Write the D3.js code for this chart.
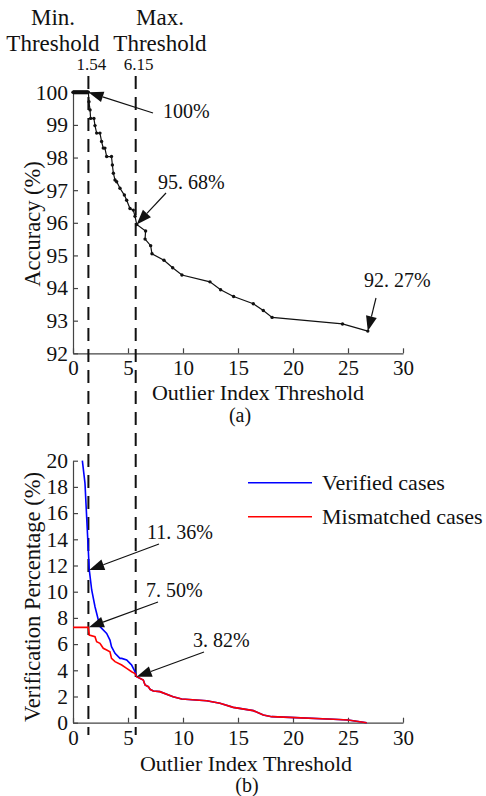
<!DOCTYPE html>
<html lang="en">
<head>
<meta charset="UTF-8">
<title>Outlier Index Threshold</title>
<script src="https://d3js.org/d3.v7.min.js"></script>
<style>
  body { margin: 0; background: #fff; }
  .axis path, .axis line { stroke: #444; stroke-width: 1.2px; }
</style>
</head>
<body>
<div id="chart"></div>
<script>
// (a) accuracy vs outlier index threshold
const accX = [0, 0.1, 0.2, 0.3, 0.4, 0.5, 0.6, 0.7, 0.8, 0.9, 1.0, 1.1, 1.2, 1.3, 1.4,
  1.45, 1.55, 1.6, 1.9, 2.0, 2.15, 2.45, 2.6, 2.75, 2.9, 3.06, 3.5, 3.58, 3.67, 3.82, 3.97,
  4.27, 4.67, 4.88, 5.18, 5.48, 5.64, 5.79, 6.6, 6.55, 7.06, 7.18, 8.27, 9.06, 9.9,
  12.45, 13.42, 14.6, 16.39, 17.3, 18.1, 24.5, 26.8];
const accY = [100, 100, 100, 100, 100, 100, 100, 100, 100, 100, 100, 100, 100, 100, 100,
  99.71, 99.46, 99.2, 99.2, 98.98, 98.75, 98.75, 98.49, 98.29, 98.29, 98.03, 98.03, 97.77, 97.52, 97.31, 97.26,
  97.06, 96.85, 96.69, 96.44, 96.39, 96.2, 95.95, 95.75, 95.5, 95.3, 95.05, 94.85, 94.62, 94.4,
  94.19, 93.95, 93.74, 93.52, 93.31, 93.10, 92.9, 92.68];

// (b) verification percentage; both curves share the same tail after the max threshold
const verX = [0.85, 1.09, 1.24, 1.39, 1.48, 1.7, 2.0, 2.15, 2.45, 3.06, 3.36, 3.5, 3.82, 4.27, 4.43, 4.88, 5.18, 5.33, 5.64];
const verY = [20.0, 18.27, 15.73, 13.18, 11.66, 10.13, 8.85, 8.35, 7.33, 6.82, 6.31, 5.8, 5.3, 4.91, 4.91, 4.79, 4.53, 4.4, 3.89];
const misX = [0, 1.39, 1.48, 2.0, 2.15, 2.45, 2.75, 3.06, 3.36, 3.5, 3.82, 4.43, 4.88, 5.33, 5.64];
const misY = [7.28, 7.28, 6.69, 6.57, 6.18, 6.06, 5.68, 5.55, 5.42, 4.91, 4.66, 4.4, 4.15, 3.89, 3.75];
const tailX = [5.79, 6.39, 6.55, 6.85, 7.0, 7.3, 7.9, 9.1, 9.88, 12.15, 13.36, 14.57, 16.39, 17.3, 18.06, 19.7, 23.67, 25.0, 26.7];
const tailY = [3.51, 3.26, 2.88, 2.75, 2.55, 2.42, 2.37, 1.98, 1.81, 1.68, 1.48, 1.17, 0.92, 0.59, 0.46, 0.41, 0.26, 0.21, 0];

const xTicks = [0, 5, 10, 15, 20, 25, 30];
const accTicks = [92, 93, 94, 95, 96, 97, 98, 99, 100];
const verTicks = [0, 2, 4, 6, 8, 10, 12, 14, 16, 18, 20];

const thresholdPos = [1.4, 5.7];
const thresholdText = ["1.54", "6.15"];
const thresholdName = ["Min.", "Max."];

const seriesNames = ["Verified cases", "Mismatched cases"];
const seriesColors = ["#0000ff", "#ff0000"];

// annotated points: [x, y, integer part, decimals]
const accNotes = [[1.4, 100, "100%", ""], [5.79, 95.95, "95.", "68%"], [26.8, 92.68, "92.", "27%"]];
const verNotes = [[1.48, 11.66, "11.", "36%"], [1.45, 7.28, "7.", "50%"], [5.79, 3.51, "3.", "82%"]];

const FONT = '"Liberation Serif", "Times New Roman", Times, "DejaVu Serif", serif';
const W = 486, H = 796;
const svg = d3.select("#chart").append("svg").attr("width", W).attr("height", H)
  .attr("font-family", FONT).style("font-family", FONT);

const x = d3.scaleLinear().domain([0, 30]).range([73, 403]);
const yA = d3.scaleLinear().domain([92, 100]).range([353.3, 92.3]);
const yB = d3.scaleLinear().domain([0, 20]).range([722.7, 460.7]);

function txt(px, py, size, s, anchor) {
  return svg.append("text").attr("x", px).attr("y", py)
    .attr("text-anchor", anchor || "start")
    .style("font-family", FONT).style("font-size", size + "px").attr("fill", "#111").text(s);
}

function drawAxes(y, ticks, x0y) {
  svg.append("g").attr("class", "axis")
    .attr("transform", `translate(0,${x0y})`)
    .call(d3.axisBottom(x).tickValues(xTicks).tickSizeInner(-5).tickSizeOuter(0).tickPadding(7))
    .call(g => g.attr("font-family", FONT).attr("font-size", 21))
    .call(g => g.selectAll("text").attr("dy", "0.71em").attr("fill", "#111").style("font-family", FONT));
  svg.append("g").attr("class", "axis")
    .attr("transform", `translate(${x(0)},0)`)
    .call(d3.axisLeft(y).tickValues(ticks).tickSizeInner(-5).tickSizeOuter(0).tickPadding(5))
    .call(g => g.attr("font-family", FONT).attr("font-size", 21.5))
    .call(g => g.selectAll("text").attr("fill", "#111").style("font-family", FONT));
}
drawAxes(yA, accTicks, yA(92));
drawAxes(yB, verTicks, yB(0));

// dashed threshold lines
thresholdPos.forEach((t, i) => {
  svg.append("line")
    .attr("x1", x(t)).attr("x2", x(t)).attr("y1", 76).attr("y2", 735)
    .attr("stroke", "#111").attr("stroke-width", 2).attr("stroke-dasharray", "13,8");
  txt(x(t) + 3, 70, 17, thresholdText[i], "middle");
});
[[53, 0], [160, 1]].forEach(([cx, i]) => {
  txt(cx, 25, 23, thresholdName[i], "middle");
  txt(cx, 51, 23, "Threshold", "middle");
});

// (a) line with dots
const accData = accX.map((v, i) => [v, accY[i]]);
svg.append("path").datum(accData)
  .attr("fill", "none").attr("stroke", "#111").attr("stroke-width", 1.2)
  .attr("d", d3.line().x(d => x(d[0])).y(d => yA(d[1])));
svg.append("line").attr("x1", x(0)).attr("x2", x(1.4)).attr("y1", yA(100)).attr("y2", yA(100))
  .attr("stroke", "#111").attr("stroke-width", 4);
svg.selectAll("circle.acc").data(accData).enter().append("circle")
  .attr("class", "acc").attr("cx", d => x(d[0])).attr("cy", d => yA(d[1])).attr("r", 1.7).attr("fill", "#111");

// (b) curves
const verData = verX.concat(tailX).map((v, i) => [v, verY.concat(tailY)[i]]);
const misData = misX.concat(tailX).map((v, i) => [v, misY.concat(tailY)[i]]);
const lineB = d3.line().x(d => x(d[0])).y(d => yB(d[1]));
[verData, misData].forEach((d, i) => {
  svg.append("path").datum(d).attr("fill", "none")
    .attr("stroke", seriesColors[i]).attr("stroke-width", 1.6).attr("d", lineB);
});

// legend
seriesNames.forEach((n, i) => {
  const ly = 482.7 + i * 34;
  svg.append("line").attr("x1", 248).attr("x2", 312).attr("y1", ly).attr("y2", ly)
    .attr("stroke", seriesColors[i]).attr("stroke-width", 1.6);
  txt(322, ly + 7, 22, n);
});

// annotations with arrows
function arrow(x0, y0, x1, y1) {
  const a = Math.atan2(y1 - y0, x1 - x0), L = 15, w = 5.5;
  const bx = x1 - L * Math.cos(a), by = y1 - L * Math.sin(a);
  svg.append("line").attr("x1", x0).attr("y1", y0).attr("x2", bx).attr("y2", by)
    .attr("stroke", "#111").attr("stroke-width", 1.2);
  const px = -Math.sin(a) * w, py = Math.cos(a) * w;
  svg.append("path").attr("fill", "#111")
    .attr("d", `M${x1},${y1}L${bx + px},${by + py}L${bx - px},${by - py}Z`);
}
function note(n, y, tail, tx, ty) {
  arrow(tail[0], tail[1], x(n[0]), y(n[1]));
  const t = txt(tx, ty, 20, null);
  t.append("tspan").text(n[2]);
  if (n[3]) t.append("tspan").attr("dx", 5).text(n[3]);
}
note(accNotes[0], yA, [153, 113], 163, 118);
note(accNotes[1], yA, [166, 193], 158, 189);
note(accNotes[2], yA, [376, 298], 364, 287);
note(verNotes[0], yB, [159, 544], 147, 539);
note(verNotes[1], yB, [158, 602], 146, 597);
note(verNotes[2], yB, [204, 652], 193, 647);

// axis titles
txt(258, 400, 22, "Outlier Index Threshold", "middle");
txt(240, 422, 20, "(a)", "middle");
txt(246, 771, 22, "Outlier Index Threshold", "middle");
txt(247, 792, 20, "(b)", "middle");
txt(0, 0, 22.5, "Accuracy (%)", "middle").attr("transform", "translate(40,224) rotate(-90)");
txt(0, 0, 22.5, "Verification Percentage (%)", "middle").attr("transform", "translate(40,597) rotate(-90)");
</script>
</body>
</html>
